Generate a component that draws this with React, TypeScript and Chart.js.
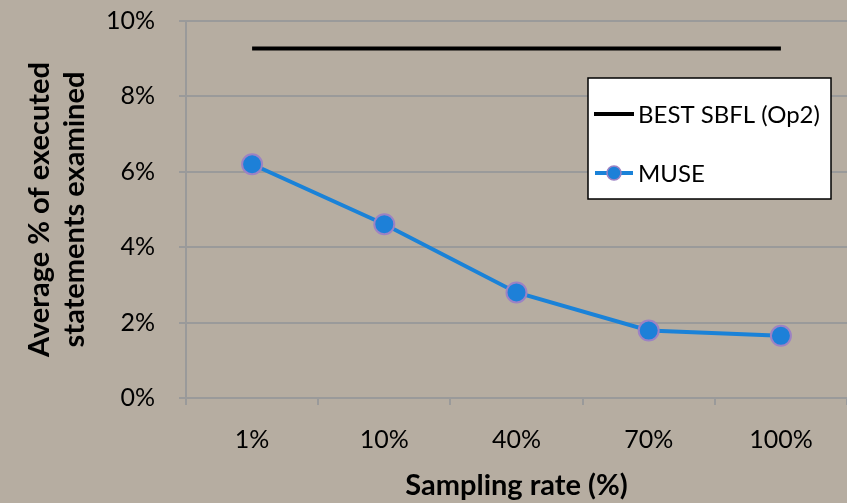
import React, { useEffect, useRef } from "react";
import { Chart, registerables } from "chart.js";

Chart.register(...registerables);

const categories = ["1%", "10%", "40%", "70%", "100%"];
const museValues = [6.2, 4.61, 2.8, 1.79, 1.65];
const sbflValues = [9.27, 9.27, 9.27, 9.27, 9.27];
const yTicks = [0, 2, 4, 6, 8, 10];
const seriesNames = ["BEST SBFL (Op2)", "MUSE"];

const FONT = "Lato, 'Open Sans', sans-serif";

const bgPlugin = {
  id: "bg",
  beforeDraw(chart: any) {
    const { ctx, width, height } = chart;
    ctx.save();
    ctx.fillStyle = "rgb(182,173,161)";
    ctx.fillRect(0, 0, width, height);
    ctx.restore();
  },
};

const legendPlugin = {
  id: "boxLegend",
  afterDraw(chart: any) {
    const ctx = chart.ctx;
    const x = 588, y = 78, w = 243, h = 121;
    ctx.save();
    ctx.fillStyle = "#ffffff";
    ctx.fillRect(x, y, w, h);
    ctx.strokeStyle = "#000000";
    ctx.lineWidth = 1.5;
    ctx.strokeRect(x, y, w, h);
    ctx.font = `24px ${FONT}`;
    ctx.textBaseline = "middle";
    ctx.fillStyle = "#000";
    const ds0 = chart.data.datasets[0];
    ctx.strokeStyle = ds0.borderColor;
    ctx.lineWidth = 4;
    ctx.beginPath();
    ctx.moveTo(594, 114);
    ctx.lineTo(634, 114);
    ctx.stroke();
    ctx.fillText(ds0.label, 638, 115);
    const ds1 = chart.data.datasets[1];
    ctx.strokeStyle = ds1.borderColor;
    ctx.lineWidth = 4;
    ctx.beginPath();
    ctx.moveTo(595, 173);
    ctx.lineTo(633, 173);
    ctx.stroke();
    ctx.beginPath();
    ctx.arc(614, 173, 7, 0, Math.PI * 2);
    ctx.fillStyle = ds1.pointBackgroundColor;
    ctx.fill();
    ctx.strokeStyle = ds1.pointBorderColor;
    ctx.lineWidth = 1.5;
    ctx.stroke();
    ctx.fillStyle = "#000";
    ctx.fillText(ds1.label, 638, 174);
    ctx.restore();
  },
};

export default function App() {
  const ref = useRef<HTMLCanvasElement>(null);
  useEffect(() => {
    document.body.style.margin = "0";
    const chart = new Chart(ref.current!, {
      type: "line",
      data: {
        labels: categories,
        datasets: [
          {
            label: seriesNames[0],
            data: sbflValues,
            borderColor: "#000000",
            borderWidth: 4,
            pointRadius: 0,
            tension: 0,
          },
          {
            label: seriesNames[1],
            data: museValues,
            borderColor: "#1a82d8",
            borderWidth: 4,
            pointRadius: 10,
            pointBackgroundColor: "#1d80d8",
            pointBorderColor: "#9c82c4",
            pointBorderWidth: 2,
            tension: 0,
          },
        ],
      },
      options: {
        animation: false,
        responsive: false,
        layout: { autoPadding: false, padding: { left: 0, right: 0, top: 21, bottom: 0 } },
        plugins: {
          legend: { display: false },
          tooltip: { enabled: false },
        },
        scales: {
          x: {
            offset: true,
            afterFit(scale: any) {
              scale.height = 105;
              scale.paddingLeft = 0;
              scale.paddingRight = 0;
            },
            grid: {
              display: true,
              offset: true,
              drawOnChartArea: false,
              drawTicks: true,
              tickLength: 7,
              color: "#9a9a9a",
              lineWidth: 2,
            },
            border: { display: true, color: "#9a9a9a", width: 2 },
            ticks: {
              color: "#000",
              font: { family: FONT, size: 25 },
              padding: 20,
            },
            title: {
              display: true,
              text: "Sampling rate (%)",
              color: "#000",
              font: { family: FONT, size: 29, weight: "bold", lineHeight: 1.2 },
              padding: { top: 0, bottom: 0 },
            },
          },
          y: {
            min: 0,
            max: 10,
            afterFit(scale: any) {
              scale.width = 186;
              scale.paddingTop = 0;
              scale.paddingBottom = 0;
            },
            afterBuildTicks(scale: any) {
              scale.ticks = yTicks.map((v) => ({ value: v }));
            },
            grid: {
              color: "#9a9a9a",
              lineWidth: 2,
              tickLength: 7,
            },
            border: { display: true, color: "#9a9a9a", width: 2 },
            ticks: {
              color: "#000",
              font: { family: FONT, size: 25 },
              padding: 24,
              callback: (v: any) => `${v}%`,
            },
            title: {
              display: true,
              text: ["Average % of executed", "statements examined"],
              color: "#000",
              font: { family: FONT, size: 29, weight: "bold", lineHeight: 1.2 },
              padding: { top: 22, bottom: 0 },
            },
          },
        },
      },
      plugins: [bgPlugin, legendPlugin],
    });
    return () => chart.destroy();
  }, []);
  return (
    <div style={{ width: 847, height: 503 }}>
      <canvas ref={ref} width={847} height={503} />
    </div>
  );
}
